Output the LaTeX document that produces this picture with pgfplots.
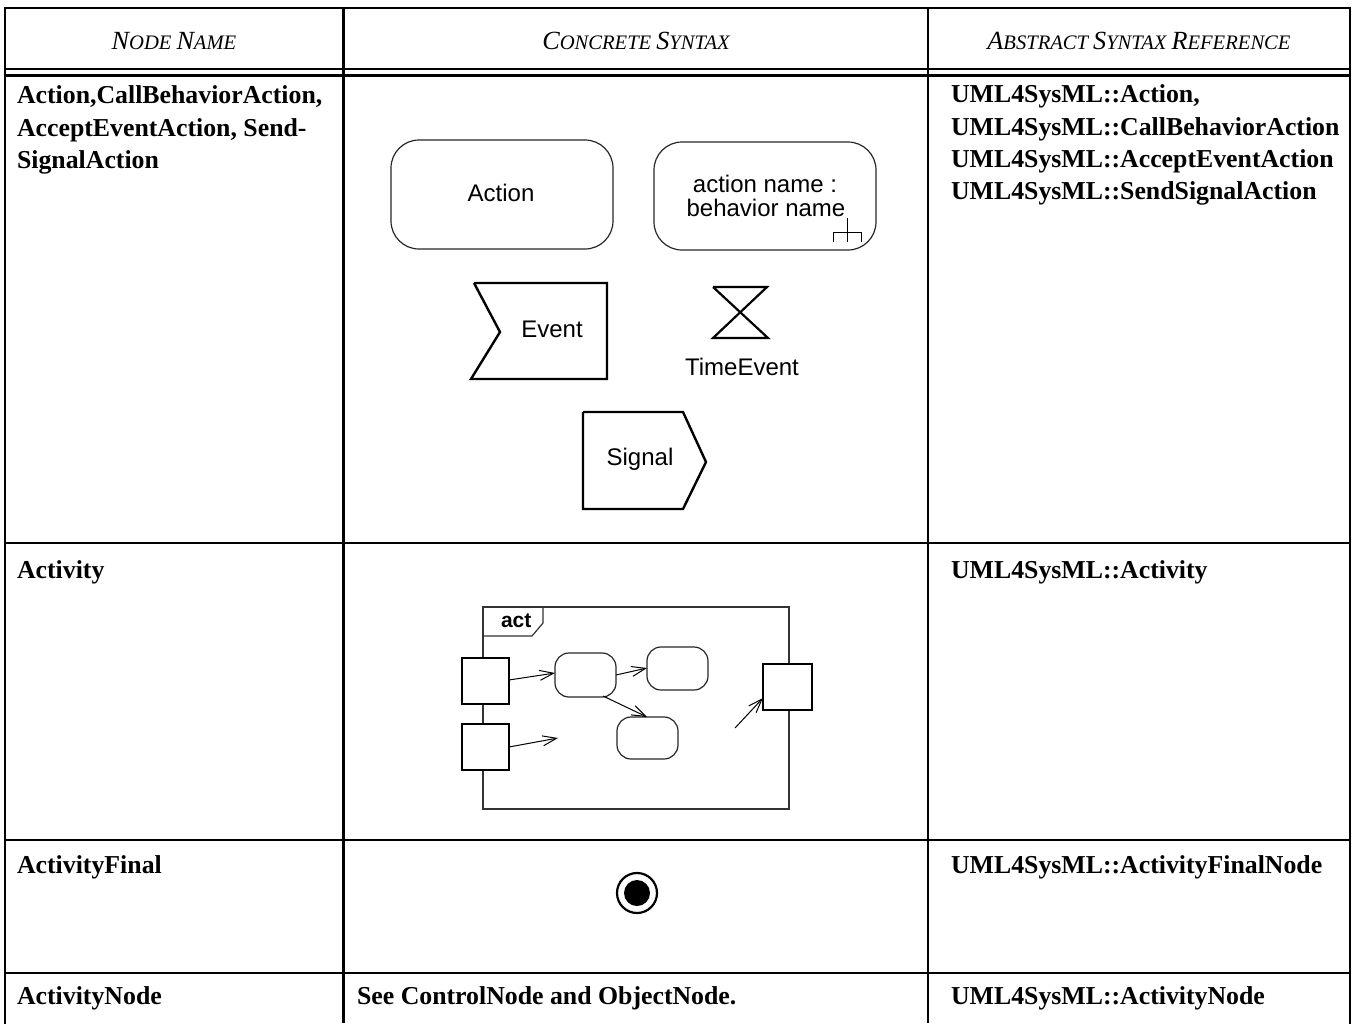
\documentclass[border=0pt]{standalone}
\usepackage{pgfplots}
\pgfplotsset{compat=1.18}
\usepackage{fontspec}
\setmainfont{Liberation Serif}
\setsansfont{Liberation Sans}
\usetikzlibrary{arrows.meta}
\newcommand{\hsc}[2]{{\fontsize{13.1}{14}\selectfont\itshape #1}{\fontsize{10.3}{12}\selectfont\itshape #2}}
\newcommand{\bodyf}{\fontsize{12.9}{16}\selectfont\bfseries}
\newcommand{\diagf}{\fontsize{12}{12.5}\selectfont\sffamily}
\begin{document}
\begin{tikzpicture}
\begin{axis}[
  x=0.5pt, y=0.5pt, y dir=reverse,
  xmin=0, xmax=1356, ymin=0, ymax=1023,
  hide axis, clip=false, scale only axis,
  every node/.style={inner sep=0pt, outer sep=0pt},
]
\path (axis cs:0,0) rectangle (axis cs:1356,1023);
% ---- table grid ----
\addplot[black, line width=1.2pt, line cap=rect] coordinates {(5,1023) (5,8) (1350,8) (1350,1023)};
\addplot[black, line width=1.2pt] coordinates {(343.5,8) (343.5,1023)};
\addplot[black, line width=1.2pt] coordinates {(928,8) (928,1023)};
\addplot[black, line width=1.1pt] coordinates {(5,69) (1350,69)};
\addplot[black, line width=1.1pt] coordinates {(5,75.5) (1350,75.5)};
\addplot[black, line width=1.2pt] coordinates {(5,543) (1350,543)};
\addplot[black, line width=1.2pt] coordinates {(5,840) (1350,840)};
\addplot[black, line width=1.2pt] coordinates {(5,973) (1350,973)};
% ---- header ----
\node[anchor=base] at (axis cs:174,49) {\hsc{N}{ODE} \hsc{N}{AME}};
\node[anchor=base] at (axis cs:636,49) {\hsc{C}{ONCRETE} \hsc{S}{YNTAX}};
\node[anchor=base] at (axis cs:1139,49) {\hsc{A}{BSTRACT} \hsc{S}{YNTAX} \hsc{R}{EFERENCE}};
% ---- column 1 ----
\node[anchor=base west] at (axis cs:10,103) {\bodyf Action,CallBehaviorAction,};
\node[anchor=base west] at (axis cs:10,136) {\bodyf AcceptEventAction, Send-};
\node[anchor=base west] at (axis cs:10,168) {\bodyf SignalAction};
\node[anchor=base west] at (axis cs:10,578) {\bodyf Activity};
\node[anchor=base west] at (axis cs:10,873) {\bodyf ActivityFinal};
\node[anchor=base west] at (axis cs:10,1004) {\bodyf ActivityNode};
% ---- column 3 ----
\node[anchor=base west] at (axis cs:944,102) {\bodyf UML4SysML::Action,};
\node[anchor=base west] at (axis cs:944,135) {\bodyf UML4SysML::CallBehaviorAction};
\node[anchor=base west] at (axis cs:944,167) {\bodyf UML4SysML::AcceptEventAction};
\node[anchor=base west] at (axis cs:944,199) {\bodyf UML4SysML::SendSignalAction};
\node[anchor=base west] at (axis cs:944,578) {\bodyf UML4SysML::Activity};
\node[anchor=base west] at (axis cs:944,873) {\bodyf UML4SysML::ActivityFinalNode};
\node[anchor=base west] at (axis cs:944,1004) {\bodyf UML4SysML::ActivityNode};
% ---- column 2, row 4 ----
\node[anchor=base west] at (axis cs:350,1004) {\bodyf See ControlNode and ObjectNode.};
% ---- row 1 diagrams ----
\draw[black!85, line width=0.6pt, rounded corners=14pt] (axis cs:391,140) rectangle (axis cs:613,249);
\node[anchor=base] at (axis cs:501,201) {\diagf Action};
\draw[black!85, line width=0.6pt, rounded corners=14pt] (axis cs:654,142) rectangle (axis cs:876,250);
\node[anchor=base] at (axis cs:765,192) {\diagf action name :};
\node[anchor=base] at (axis cs:766,216) {\diagf behavior name};
\addplot[black, line width=0.5pt] coordinates {(847,218) (847,242)};
\addplot[black, line width=0.5pt] coordinates {(833,242) (833,232) (861,232) (861,242)};
\addplot[black, line width=1.2pt, line join=miter] coordinates {(474,283) (607,283) (607,379) (471,379) (500,332) (474,283)};
\node[anchor=base] at (axis cs:552,337) {\diagf Event};
\addplot[black, line width=1.1pt] coordinates {(713,287) (767,287) (713,338) (768,338) (713,287)};
\node[anchor=base] at (axis cs:742,375) {\diagf TimeEvent};
\addplot[black, line width=1.2pt, line join=miter] coordinates {(583,412) (683,412) (706,462) (683,509) (583,509) (583,412)};
\node[anchor=base] at (axis cs:640,465) {\diagf Signal};
% ---- row 2 activity ----
\draw[black!80, line width=0.6pt] (axis cs:483,607) rectangle (axis cs:789,809);
\draw[black!80, line width=0.6pt] (axis cs:543,607) -- (axis cs:543,623) -- (axis cs:532,636) -- (axis cs:483,636);
\node[anchor=base west] at (axis cs:494,627) {\fontsize{10.5}{12}\selectfont\sffamily\bfseries act};
\draw[black, line width=0.6pt, fill=white] (axis cs:462,658) rectangle (axis cs:509,704);
\draw[black, line width=0.6pt, fill=white] (axis cs:462,724) rectangle (axis cs:509,770);
\draw[black, line width=0.6pt, fill=white] (axis cs:763,664) rectangle (axis cs:812,710);
\draw[black!85, line width=0.6pt, rounded corners=7pt] (axis cs:555,653) rectangle (axis cs:616,697);
\draw[black!85, line width=0.6pt, rounded corners=7pt] (axis cs:647,647) rectangle (axis cs:708,690);
\draw[black!85, line width=0.6pt, rounded corners=7pt] (axis cs:617,717) rectangle (axis cs:678,759);
\begin{scope}[black, line width=0.5pt, -{Straight Barb[length=7pt,width=5pt]}]
\draw (axis cs:509,680) -- (axis cs:555,673);
\draw (axis cs:616,675) -- (axis cs:647,668);
\draw (axis cs:603,696) -- (axis cs:647,717);
\draw (axis cs:509,747) -- (axis cs:558,738);
\draw (axis cs:735,728) -- (axis cs:763,698);
\end{scope}
% ---- row 3 final node ----
\draw[black, line width=1.1pt] (axis cs:637,893) circle[radius=10pt];
\fill[black] (axis cs:637,893) circle[radius=6.5pt];
\end{axis}
\end{tikzpicture}
\end{document}
